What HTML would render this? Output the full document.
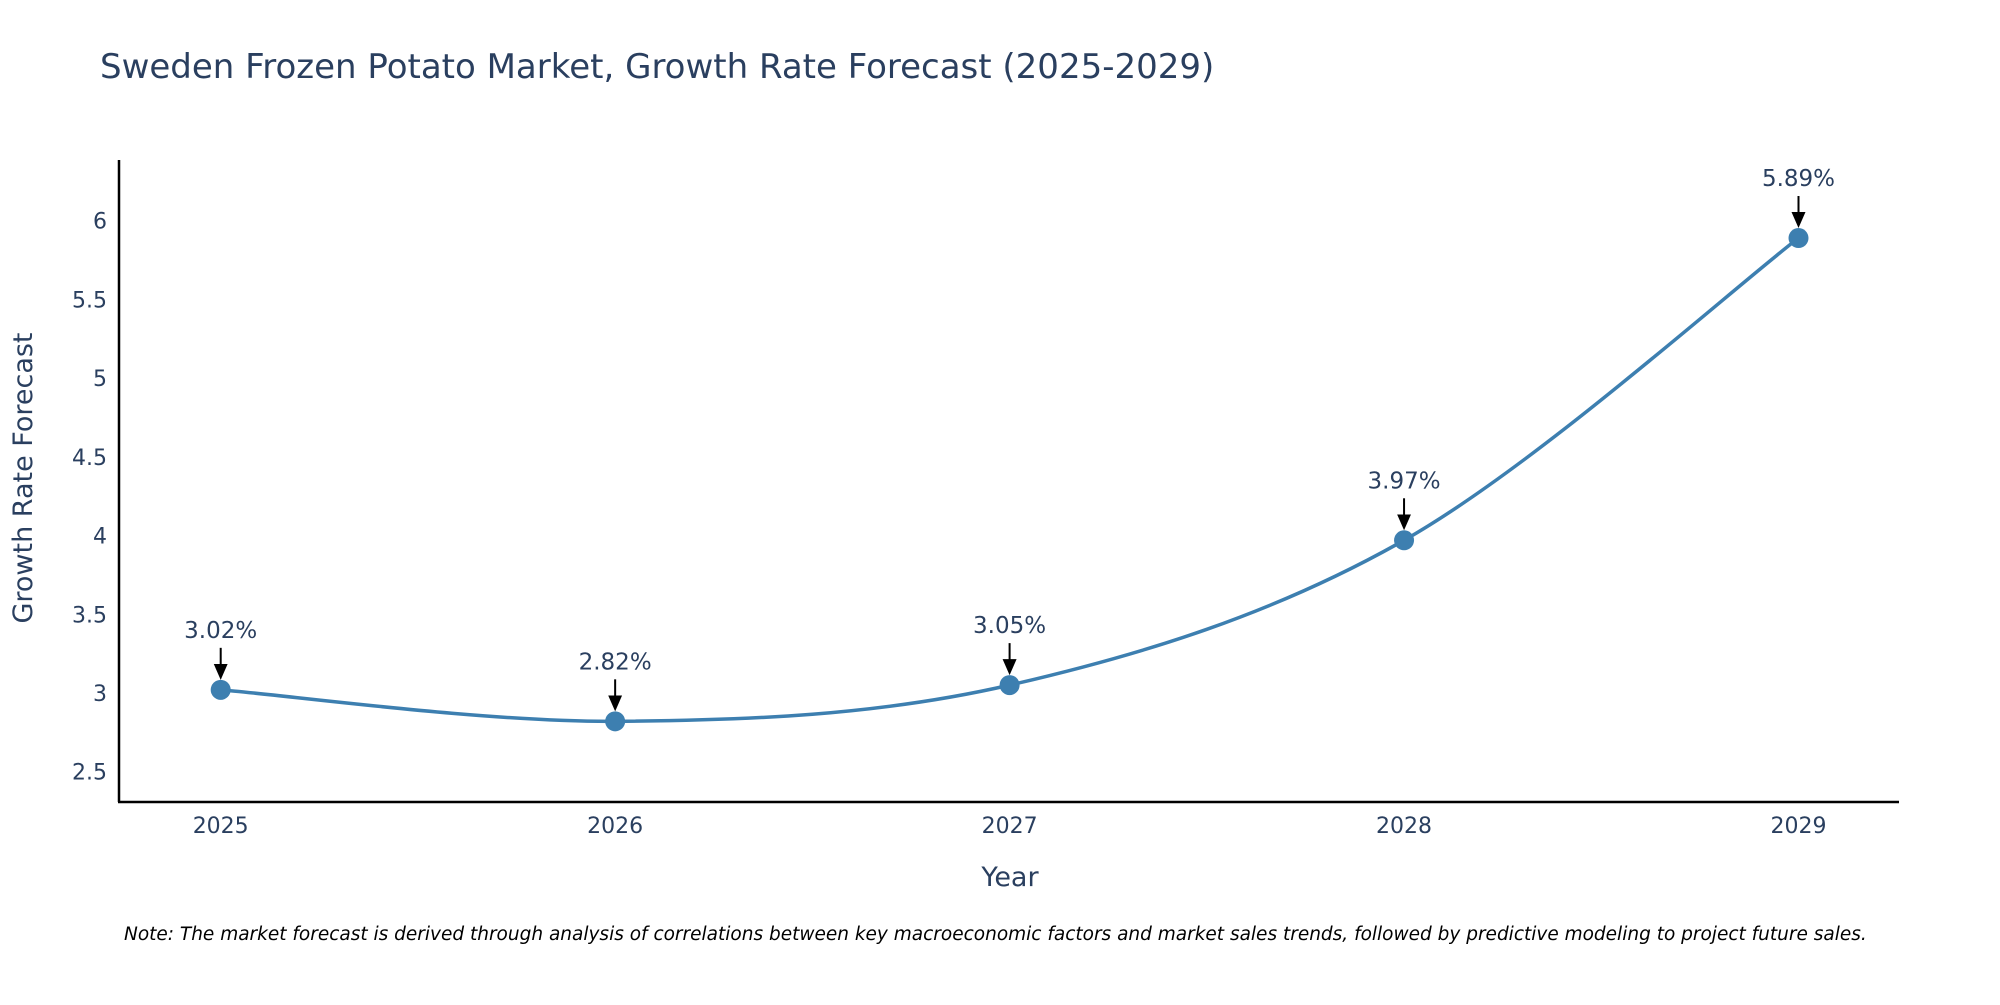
<!DOCTYPE html>
<html><head><meta charset="utf-8"><style>
body{margin:0;background:#fff;}
svg text{font-family:"DejaVu Sans","Liberation Sans",sans-serif;}
</style></head><body>
<svg id="chart" width="2000" height="1000">
<text x="100" y="78" font-size="34" fill="#2a3f5f">Sweden Frozen Potato Market, Growth Rate Forecast (2025-2029)</text>
<g id="yticks"></g>
<g id="xticks"></g>
<line x1="119" y1="160" x2="119" y2="802" stroke="#000" stroke-width="2.5"/>
<line x1="118" y1="802" x2="1899" y2="802" stroke="#000" stroke-width="2.5"/>
<path id="line" fill="none" stroke="#3d7fb0" stroke-width="3.5"/>
<g id="points"></g>
<text x="32" y="478" font-size="27" fill="#2a3f5f" text-anchor="middle" transform="rotate(-90 32 478)">Growth Rate Forecast</text>
<text x="1010" y="886" font-size="27" fill="#2a3f5f" text-anchor="middle">Year</text>
<text x="124" y="940" font-size="18.5" fill="#000" font-style="italic">Note: The market forecast is derived through analysis of correlations between key macroeconomic factors and market sales trends, followed by predictive modeling to project future sales.</text>
<defs><marker id="ah" markerWidth="16" markerHeight="16" refX="2" refY="8" orient="auto" markerUnits="userSpaceOnUse"><path d="M0,1 L16,8 L0,15 z" fill="#000"/></marker></defs>
</svg>
<script>
const years=[2025,2026,2027,2028,2029];
const values=[3.02,2.82,3.05,3.97,5.89];
const yTicks=[2.5,3,3.5,4,4.5,5,5.5,6];
const NS="http://www.w3.org/2000/svg";
const X=y=>220.7+(y-2025)*(1798.5-220.7)/4;
const Y=v=>771.7-(v-2.5)*(771.7-220.7)/3.5;
function mk(tag,attrs,parent){const e=document.createElementNS(NS,tag);for(const k in attrs)e.setAttribute(k,attrs[k]);parent.appendChild(e);return e;}
const yt=document.getElementById('yticks');
yTicks.forEach(t=>{const e=mk('text',{x:107,y:Y(t)+8,'font-size':22,fill:'#2a3f5f','text-anchor':'end'},yt);


e.textContent=String(t);});
const xt=document.getElementById('xticks');
years.forEach(y=>{const e=mk('text',{x:X(y),y:833,'font-size':22,fill:'#2a3f5f','text-anchor':'middle'},xt);


e.textContent=String(y);});
const P=years.map((y,i)=>[X(y),Y(values[i])]);
let d=`M${P[0][0]},${P[0][1]}`;
for(let i=0;i<P.length-1;i++){const p0=P[Math.max(i-1,0)],p1=P[i],p2=P[i+1],p3=P[Math.min(i+2,P.length-1)];
const c1=[p1[0]+(p2[0]-p0[0])/6,p1[1]+(p2[1]-p0[1])/6],c2=[p2[0]-(p3[0]-p1[0])/6,p2[1]-(p3[1]-p1[1])/6];
d+=` C${c1[0]},${c1[1]} ${c2[0]},${c2[1]} ${p2[0]},${p2[1]}`;}
document.getElementById('line').setAttribute('d',d);
const pts=document.getElementById('points');
P.forEach((p,i)=>{const c=mk('circle',{cx:p[0],cy:p[1],r:10,fill:'#3d7fb0'},pts);


const a=mk('line',{x1:p[0],y1:p[1]-42,x2:p[0],y2:p[1]-24,stroke:'#000','stroke-width':2,'marker-end':'url(#ah)'},pts);


const t=mk('text',{x:p[0],y:p[1]-52,'font-size':23,fill:'#2a3f5f','text-anchor':'middle'},pts);


t.textContent=values[i].toFixed(2)+'%';});
</script>
</body></html>
